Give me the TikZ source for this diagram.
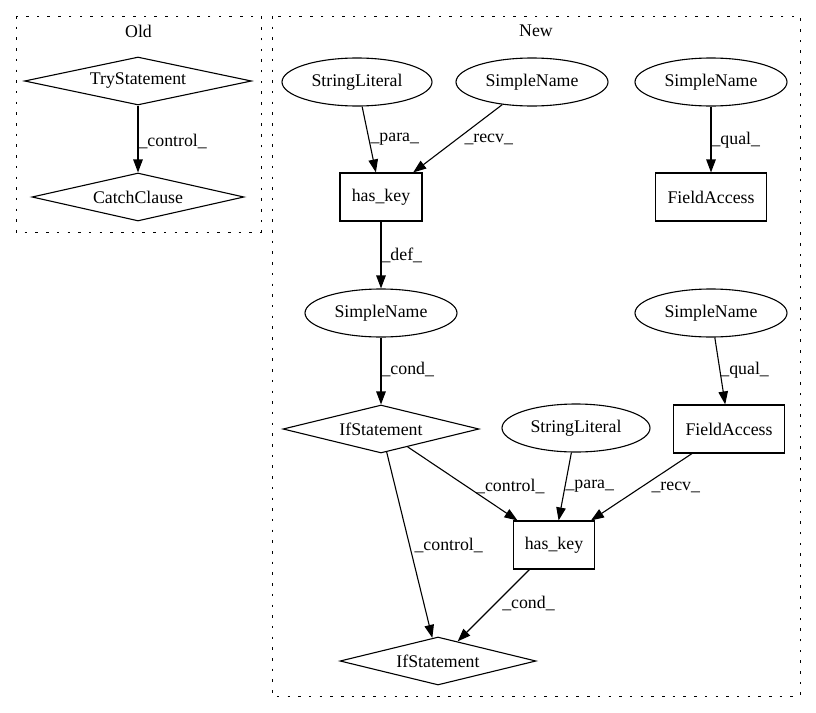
\documentclass[tikz,border=0pt]{standalone}
\usepackage{fontspec}
\setmainfont{Liberation Serif}
\usetikzlibrary{shapes.geometric,arrows.meta}

\begin{document}
\begin{tikzpicture}[x=1pt,y=-1pt,line width=1.1pt,
    font=\fontsize{17.8}{20}\selectfont,
    every node/.style={inner sep=0pt},
    dmd/.style={draw,diamond,aspect=4.5,minimum height=48pt},
    elp/.style={draw,ellipse,minimum width=152pt,minimum height=48pt},
    rectbox/.style={draw,rectangle,minimum height=48pt},
    arr/.style={-{Triangle[length=13pt,width=9.5pt]}},
    lbl/.style={anchor=west},
    cluster/.style={draw,line width=1pt,dash pattern=on 2.5pt off 8.2pt}]
    \useasboundingbox (0,0) rectangle (816,712);
    % clusters
    \draw[cluster] (16,16) rectangle (261,232);
    \node (oldlbl) at (138.5,31) {Old};
    \draw[cluster] (272,16) rectangle (800,696);
    \node (newlbl) at (536,31) {New};
    % old
    \node[dmd,minimum width=227pt] (try) at (138,81) {TryStatement};
    \node[dmd,minimum width=212pt] (catch) at (138,197) {CatchClause};
    % new
    \node[elp,minimum width=150pt] (lit1) at (357,82) {StringLiteral};
    \node[elp] (name1) at (532,82) {SimpleName};
    \node[elp] (name2) at (711,82) {SimpleName};
    \node[rectbox,minimum width=82pt] (key1) at (381,197) {has\_key};
    \node[rectbox,minimum width=111pt] (field1) at (711,197) {FieldAccess};
    \node[elp] (name3) at (381,313) {SimpleName};
    \node[elp] (name4) at (711,313) {SimpleName};
    \node[dmd,minimum width=196pt] (if1) at (381,429) {IfStatement};
    \node[elp,minimum width=148pt] (lit2) at (576,428) {StringLiteral};
    \node[rectbox,minimum width=111pt] (field2) at (729,429) {FieldAccess};
    \node[rectbox,minimum width=81pt] (key2) at (554,545) {has\_key};
    \node[dmd,minimum width=196pt] (if2) at (438,661) {IfStatement};
    % edges
    \draw[arr] (try) -- node[lbl,pos=0.54] {\_control\_} (catch);
    \draw[arr] (lit1) -- node[lbl,pos=0.5,xshift=1pt] {\_para\_} (key1);
    \draw[arr] (name1) -- node[lbl,pos=0.52,xshift=8pt] {\_recv\_} (key1);
    \draw[arr] (name2) -- node[lbl,pos=0.51] {\_qual\_} (field1);
    \draw[arr] (key1) -- node[lbl,pos=0.51] {\_def\_} (name3);
    \draw[arr] (name3) -- node[lbl,pos=0.48] {\_cond\_} (if1);
    \draw[arr] (name4) -- node[lbl,pos=0.485] {\_qual\_} (field2);
    \draw[arr] (if1) -- node[lbl,pos=0.537,xshift=9pt] {\_control\_} (key2);
    \draw[arr] (lit2) -- node[lbl,pos=0.5] {\_para\_} (key2);
    \draw[arr] (field2) -- node[lbl,pos=0.5,xshift=9.5pt] {\_recv\_} (key2);
    \draw[arr] (if1) -- node[lbl,pos=0.5,xshift=4.5pt] {\_control\_} (if2);
    \draw[arr] (key2) -- node[lbl,pos=0.47,xshift=6pt] {\_cond\_} (if2);
\end{tikzpicture}
\end{document}
